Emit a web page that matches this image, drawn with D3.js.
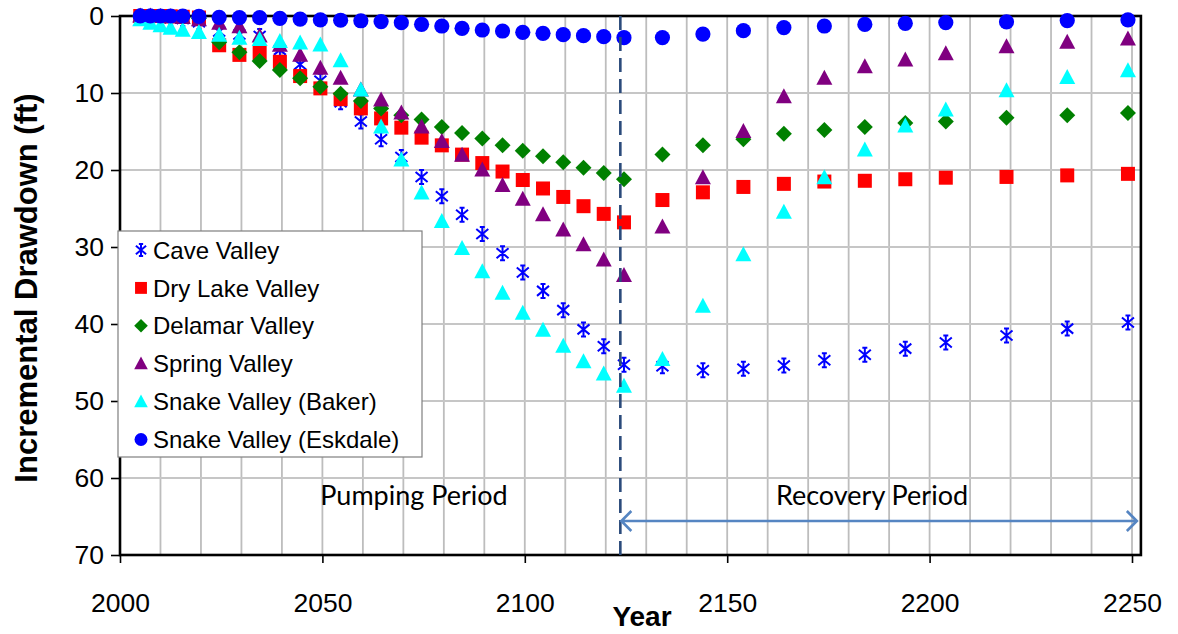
<!DOCTYPE html>
<html><head><meta charset="utf-8">
<script src="https://cdn.jsdelivr.net/npm/d3@7"></script>
<style>
body{margin:0;background:#fff;}
svg{display:block;}
</style></head>
<body><svg id="chart" width="1178" height="634"></svg>
<script>
// ---------------- data ----------------
const years = [2005, 2007.5, 2010, 2012.5, 2015.5, 2019.5, 2024.5, 2029.5, 2034.5, 2039.5, 2044.5, 2049.5, 2054.5, 2059.5, 2064.5, 2069.5, 2074.5, 2079.5, 2084.5, 2089.5, 2094.5, 2099.5, 2104.5, 2109.5, 2114.5, 2119.5, 2124.5,
  2134, 2144, 2154, 2164, 2174, 2184, 2194, 2204, 2219, 2234, 2249];
const caveValley = [0.05, 0.1, 0.2, 0.3, 0.4, 0.8, 2.0, 2.4, 2.6, 4.4, 6.3, 8.4, 11.2, 13.7, 16.0, 18.3, 20.9, 23.4, 25.8, 28.3, 30.8, 33.3, 35.7, 38.2, 40.7, 42.9, 45.3,
  45.5, 46.0, 45.8, 45.4, 44.7, 44.0, 43.2, 42.4, 41.5, 40.6, 39.8];
const dryLakeValley = [0, 0, 0, 0.05, 0.1, 0.2, 3.8, 5.05, 4.8, 5.95, 7.8, 9.4, 10.8, 12.0, 13.3, 14.5, 15.8, 16.8, 18.0, 19.1, 20.2, 21.3, 22.4, 23.5, 24.7, 25.7, 26.8,
  23.9, 22.9, 22.2, 21.8, 21.5, 21.4, 21.2, 21.0, 20.9, 20.7, 20.5];
const delamarValley = [0, 0.05, 0.1, 0.15, 0.2, 0.3, 3.4, 4.7, 5.85, 7.0, 8.1, 9.2, 10.1, 11.05, 12.0, 12.9, 13.45, 14.4, 15.2, 15.9, 16.8, 17.5, 18.2, 19.0, 19.7, 20.4, 21.2,
  18.0, 16.8, 16.0, 15.3, 14.8, 14.4, 13.9, 13.7, 13.2, 12.9, 12.6];
const springValley = [0, 0, 0.05, 0.1, 0.2, 0.5, 0.95, 1.4, 2.6, 3.8, 5.1, 6.8, 8.1, 9.6, 10.9, 12.6, 14.4, 16.3, 18.1, 20.0, 22.0, 23.8, 25.8, 27.8, 29.7, 31.7, 33.7,
  27.4, 21.0, 15.0, 10.5, 8.1, 6.6, 5.7, 4.9, 4.0, 3.4, 3.0];
const snakeBaker = [0.5, 0.95, 1.25, 1.6, 1.85, 2.15, 2.5, 2.9, 3.05, 3.3, 3.5, 3.75, 5.8, 9.6, 14.4, 18.7, 23.0, 26.7, 30.2, 33.2, 36.0, 38.6, 40.8, 42.9, 44.9, 46.5, 48.1,
  44.6, 37.7, 31.0, 25.5, 21.0, 17.4, 14.3, 12.2, 9.7, 8.0, 7.1];
const snakeEskdale = [0, 0, 0, 0, 0, 0.05, 0.17, 0.2, 0.22, 0.3, 0.4, 0.5, 0.55, 0.62, 0.72, 0.87, 1.08, 1.3, 1.6, 1.82, 1.95, 2.12, 2.25, 2.42, 2.55, 2.68, 2.82,
  2.8, 2.35, 1.9, 1.5, 1.3, 1.1, 0.95, 0.85, 0.75, 0.6, 0.5];
const seriesNames = ["Cave Valley", "Dry Lake Valley", "Delamar Valley", "Spring Valley", "Snake Valley (Baker)", "Snake Valley (Eskdale)"];
const yTicks = [0, 10, 20, 30, 40, 50, 60, 70];
const xTicks = [2000, 2050, 2100, 2150, 2200, 2250];
const pumpingEnd = 2123.6;

// ---------------- layout ----------------
const svg = d3.select("#chart");
const x = d3.scaleLinear().domain([2000, 2250]).range([120, 1132]);
const y = d3.scaleLinear().domain([0, 70]).range([16, 555]);
const xMaxFrame = 2252.2;
const L = x(2000), R = x(xMaxFrame), T = y(0), B = y(70);

svg.append("rect").attr("width", 1178).attr("height", 634).attr("fill", "#fff");

// gridlines
const grid = svg.append("g");
grid.selectAll("line.v").data(d3.range(2010, 2251, 10)).join("line")
  .attr("x1", d => x(d)).attr("x2", d => x(d)).attr("y1", T).attr("y2", B)
  .attr("stroke", "#bdbdbd").attr("stroke-width", 1.8);
grid.selectAll("line.h").data(d3.range(10, 61, 10)).join("line")
  .attr("x1", L).attr("x2", R).attr("y1", d => y(d)).attr("y2", d => y(d))
  .attr("stroke", "#c6c6c6").attr("stroke-width", 1.8);

// axes
const fontAx = "'Liberation Sans', Arial, sans-serif";
const yAxis = svg.append("g").attr("transform", `translate(${L},0)`)
  .call(d3.axisLeft(y).tickValues(yTicks).tickSize(9).tickPadding(7).tickFormat(d3.format("d")));
const xAxis = svg.append("g").attr("transform", `translate(0,${B})`)
  .call(d3.axisBottom(x).tickValues(xTicks).tickSize(8).tickPadding(30).tickFormat(d3.format("d")));
[yAxis, xAxis].forEach(g => {
  g.select(".domain").remove();
  g.selectAll(".tick line").attr("stroke", "#000").attr("stroke-width", 1.6);
  g.selectAll(".tick text").attr("font-family", fontAx).attr("font-size", 26.5).attr("fill", "#000");
});

// frame
svg.append("rect").attr("x", L).attr("y", T).attr("width", R - L).attr("height", B - T)
  .attr("fill", "none").attr("stroke", "#000").attr("stroke-width", 2.6);

// markers
function marker(g, type, color, s) {
  s = s || 1;
  if (type === "asterisk") {
    g.append("path").attr("d",
      `M0,${-7*s}V${7*s}M${-6*s},${-5*s}L${6*s},${5*s}M${-6*s},${5*s}L${6*s},${-5*s}M${-2.5*s},${-7*s}H${2.5*s}M${-2.5*s},${7*s}H${2.5*s}`)
      .attr("stroke", color).attr("stroke-width", 2).attr("fill", "none");
  } else if (type === "square") {
    g.append("rect").attr("x", -7*s).attr("y", -7*s).attr("width", 14*s).attr("height", 14*s).attr("fill", color);
  } else if (type === "diamond") {
    g.append("path").attr("d", `M0,${-8*s}L${8*s},0L0,${8*s}L${-8*s},0Z`).attr("fill", color);
  } else if (type === "triangle") {
    g.append("path").attr("d", `M0,${-8.5*s}L${8*s},${6.5*s}L${-8*s},${6.5*s}Z`).attr("fill", color);
  } else if (type === "circle") {
    g.append("circle").attr("r", 7.6*s).attr("fill", color);
  }
}
const seriesDefs = [
  {name: seriesNames[0], values: caveValley, type: "asterisk", color: "#0000ff"},
  {name: seriesNames[1], values: dryLakeValley, type: "square", color: "#ff0000"},
  {name: seriesNames[2], values: delamarValley, type: "diamond", color: "#008000"},
  {name: seriesNames[3], values: springValley, type: "triangle", color: "#800080"},
  {name: seriesNames[4], values: snakeBaker, type: "triangle", color: "#00ffff"},
  {name: seriesNames[5], values: snakeEskdale, type: "circle", color: "#0000ff"}
];
const marks = svg.append("g");
seriesDefs.forEach(sd => {
  const gs = marks.append("g");
  years.forEach((yr, i) => {
    const g = gs.append("g").attr("transform", `translate(${x(yr)},${y(sd.values[i])})`);
    marker(g, sd.type, sd.color, 1);
  });
});

// pumping end dashed line
svg.append("line").attr("x1", x(pumpingEnd)).attr("x2", x(pumpingEnd)).attr("y1", T).attr("y2", B + 5)
  .attr("stroke", "#2b4b7b").attr("stroke-width", 2.6).attr("stroke-dasharray", "14,7");

// recovery arrow
const ay = 521, ax1 = x(pumpingEnd) + 1, ax2 = x(2251.2);
svg.append("path").attr("d", `M${ax1},${ay}H${ax2}M${ax1+10},${ay-10}L${ax1},${ay}L${ax1+10},${ay+10}M${ax2-10},${ay-10}L${ax2},${ay}L${ax2-10},${ay+10}`)
  .attr("stroke", "#5585c2").attr("stroke-width", 2.6).attr("fill", "none");

// period labels
const fontLab = "Lato, 'Open Sans', sans-serif";
svg.append("text").attr("x", 414).attr("y", 505).attr("text-anchor", "middle")
  .attr("font-family", fontLab).attr("font-size", 27).text("Pumping Period");
svg.append("text").attr("x", 872).attr("y", 505).attr("text-anchor", "middle")
  .attr("font-family", fontLab).attr("font-size", 27).text("Recovery Period");

// legend
const lg = svg.append("g");
lg.append("rect").attr("x", 118).attr("y", 231).attr("width", 304).attr("height", 226)
  .attr("fill", "#fff").attr("stroke", "#7f7f7f").attr("stroke-width", 1.2);
seriesDefs.forEach((sd, i) => {
  const cy = 250 + i * 37.9;
  const g = lg.append("g").attr("transform", `translate(141,${cy})`);
  marker(g, sd.type, sd.color, 0.85);
  lg.append("text").attr("x", 153).attr("y", cy).attr("dy", "0.36em")
    .attr("font-family", fontAx).attr("font-size", 24).attr("fill", "#000").text(sd.name);
});

// axis titles
svg.append("text").attr("transform", `translate(37,288) rotate(-90)`).attr("text-anchor", "middle")
  .attr("font-family", fontAx).attr("font-weight", "bold").attr("font-size", 31).text("Incremental Drawdown (ft)");
svg.append("text").attr("x", 642).attr("y", 626).attr("text-anchor", "middle")
  .attr("font-family", fontAx).attr("font-weight", "bold").attr("font-size", 28).text("Year");
</script></body></html>
